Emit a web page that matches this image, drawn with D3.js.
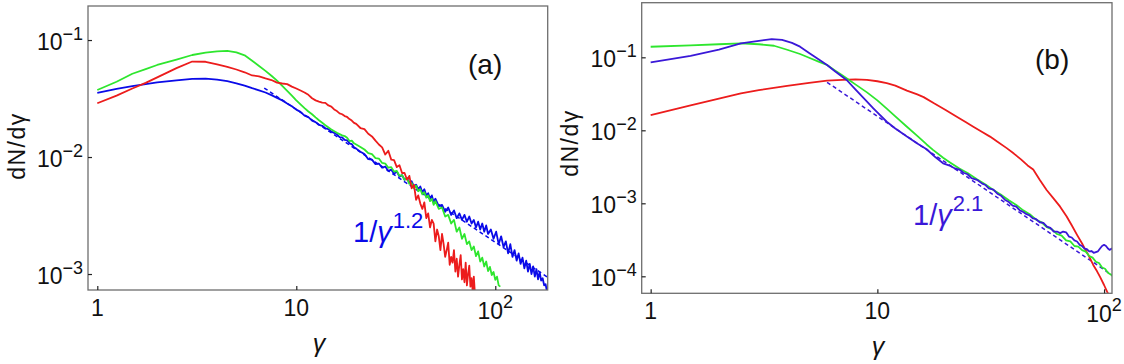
<!DOCTYPE html>
<html><head><meta charset="utf-8">
<script src="https://cdn.jsdelivr.net/npm/d3@7"></script>
<style>
html,body{margin:0;padding:0;background:#fff;}
svg text{font-family:"Liberation Sans",Arial,sans-serif;fill:#111;}
</style></head>
<body><svg id="c" width="1124" height="364"></svg>
<script>
// ---------- DATA ----------
const xTicks = [1, 10, 100];
const yTicksA = [1e-1, 1e-2, 1e-3];
const yTicksB = [1e-1, 1e-2, 1e-3, 1e-4];
const xTickLabels = [["1",""],["10",""],["10","2"]];
const yTickLabelsA = [["10","\u22121"],["10","\u22122"],["10","\u22123"]];
const yTickLabelsB = [["10","\u22121"],["10","\u22122"],["10","\u22123"],["10","\u22124"]];

// panel (a)
const aRed = [[1,0.0288],[1.25,0.0335],[1.5,0.0385],[1.75,0.0430],[2,0.0480],[2.5,0.0575],[3,0.0655],[3.5,0.0652],[4,0.0618],[4.5,0.0590],[5,0.0560],[5.5,0.0530],[6,0.0498],[6.5,0.0490],[7,0.0470],[7.5,0.0455],[8,0.0432],[8.5,0.0425],[9,0.0420],[9.5,0.0400],[10,0.0385],[10.5,0.0370],[11,0.0356],[11.5,0.0340],[12,0.0318],[12.5,0.0305],[13,0.0298],[13.5,0.0292],[14,0.0290],[14.5,0.0276],[15,0.0270],[15.5,0.0255],[16,0.0247],[16.5,0.0236],[17,0.0232],[17.5,0.0224],[18,0.0220],[18.5,0.0211],[19,0.0205],[19.5,0.0196],[20,0.0192],
[21,0.0177],[22,0.0173],[23,0.0158],[24,0.0150],[25,0.0138],[26,0.0128],[27,0.0121],[28,0.0105],[29,0.0113],[30,0.0095],[31,0.0094],[32,0.0082],[33,0.0085],[34,0.0073],[35,0.0073],[36,0.0064],[37,0.0069],[38,0.0054],[39,0.0058],[40,0.0043],[41,0.0047],[42,0.0040],[43,0.0036],[44,0.0041],[45,0.0030],[46,0.0033],[47,0.0025],[48,0.0029],[49,0.0027],[50,0.0019],[51,0.0024],[52,0.0021],[53,0.0016],[54,0.0022],[55,0.0018],[56,0.0014],[57,0.0016],[58,0.00185],[59,0.0012],[60,0.0014],[61,0.00125],[62,0.0016],[63,0.00105],[64,0.00135],[65,0.00095],[66,0.00120],[67,0.00145],[68,0.00090],[69,0.00110],[70,0.00085],[71,0.00125],[72,0.00080],[73,0.00100],[74,0.00118],[75,0.00078],[76,0.00092],[77,0.00071],[78,0.00095],[79,0.00068],[80,0.00060]];

const aGreen = [[1,0.0374],[1.25,0.0440],[1.5,0.0515],[1.75,0.0565],[2,0.0612],[2.5,0.0680],[3,0.0745],[3.5,0.0780],[4,0.0800],[4.5,0.0808],[5,0.0785],[5.5,0.0740],[6,0.0665],[6.5,0.0600],[7,0.0545],[7.5,0.0495],[8,0.0450],[8.5,0.0405],[9,0.0368],[9.5,0.0335],[10,0.0305],[10.5,0.0282],[11,0.0262],[11.5,0.0245],[12,0.0232],[12.5,0.0218],[13,0.0206],[13.5,0.0196],[14,0.0187],[15,0.0172],[16,0.0161],[17,0.0153],[17.5,0.0151],[18,0.0146],[18.5,0.0137],[19,0.0138],[19.5,0.0131],[20,0.0128],[21,0.0122],[22,0.0116],
[23,0.0108],[24,0.0106],[25,0.0098],[26,0.0097],[27,0.0089],[28,0.0088],[29,0.0081],[30,0.0082],[31,0.0075],[32,0.0076],[33,0.0069],[34,0.0070],[35,0.0064],[36,0.0066],[37,0.0059],[38,0.0060],[39,0.0054],[40,0.0057],[41,0.0051],[42,0.0053],[43,0.0048],[44,0.0050],[45,0.0045],[46,0.0047],[47,0.0042],[48,0.0044],[49,0.0039],[50,0.0042],[52,0.0036],[54,0.0037],[56,0.0031],[58,0.0032],[60,0.0027],[62,0.0029],[64,0.0023],[66,0.0025],[68,0.0020],[70,0.0022],[72,0.0018],[74,0.0019],[76,0.0016],[78,0.00172],[80,0.00142],[82,0.00156],[84,0.00128],[86,0.00138],[88,0.00116],[90,0.00128],[92,0.00106],[94,0.00115],[96,0.00098],[98,0.00104],[100,0.00089],[102,0.00095],[104,0.00080],[106,0.00078]];

const aBlue = [[1,0.0354],[1.25,0.0382],[1.5,0.0403],[1.75,0.0420],[2,0.0435],[2.5,0.0452],[3,0.0465],[3.5,0.0467],[4,0.0458],[4.5,0.0445],[5,0.0427],[5.5,0.0408],[6,0.0388],[6.5,0.0372],[7,0.0356],[7.5,0.0338],[8,0.0320],[8.5,0.0305],[9,0.0287],[9.5,0.0272],[10,0.0254],[10.5,0.0243],[11,0.0226],[11.5,0.0219],[12,0.0205],[12.5,0.0199],[13,0.0188],[13.5,0.0185],[14,0.0176],[14.5,0.0173],[15,0.0165],[15.5,0.0161],[16,0.0156],[16.5,0.0148],[17,0.0147],[17.5,0.0140],[18,0.0139],[18.5,0.0131],[19,0.0129],[19.5,0.0121],[20,0.0118],
[21,0.0111],[22,0.0106],[23,0.0096],[24,0.0095],[25,0.0087],[26,0.0088],[27,0.0081],[28,0.0083],[29,0.0076],[30,0.0078],[31,0.0072],[32,0.0075],[33,0.0068],[34,0.0070],[35,0.0064],[36,0.0066],[37,0.0060],[38,0.0062],[39,0.0056],[40,0.0058],[41,0.0053],[42,0.0056],[43,0.0050],[44,0.0053],[45,0.0047],[46,0.0049],[47,0.0044],[48,0.0047],[49,0.0041],[50,0.0044],[52,0.0038],[54,0.0039],[56,0.0034],[58,0.0037],[60,0.0032],[62,0.0035],[64,0.0030],[66,0.0033],[68,0.0029],[70,0.0032],[72,0.0028],[74,0.0031],[76,0.0027],[78,0.0029],[80,0.0025],[82,0.0028],[84,0.0024],[86,0.0027],[88,0.0023],[90,0.0026],[92,0.0022],[95,0.0024],[98,0.0020],[101,0.0023],[104,0.0018],[107,0.0021],[110,0.0017],[113,0.0019],[116,0.0015],[119,0.0018],[122,0.0014],[125,0.0016],[128,0.0013],[131,0.0015],[134,0.00122],[137,0.00138],[140,0.00112],[143,0.00130],[146,0.00105],[149,0.00122],[152,0.00100],[155,0.00116],[158,0.00095],[161,0.00110],[164,0.00090],[167,0.00104],[170,0.00088],[173,0.00092],[176,0.00080],[179,0.00082],[182,0.00070],[185,0.00078]];

const aFit = [[6.9,0.0389],[183,0.00094]];   // 1/γ^1.2

// panel (b)
const bRed = [[1,0.0162],[1.5,0.0220],[2,0.0272],[2.5,0.0321],[3,0.0355],[4,0.0405],[5,0.0445],[6,0.0480],[7,0.0492],[8,0.0498],[9,0.0490],[10,0.0470],[11,0.0442],[12,0.0410],[13.5,0.0350],[15,0.0310],[16,0.0285],[17.7,0.0236],[20,0.0190],[22.4,0.0153],[24.5,0.0130],[26.5,0.0112],[29,0.0095],[31.4,0.0082],[34,0.0069],[37.2,0.0057],[40,0.0048],[43,0.0040],[46,0.0033],[48.7,0.0029],[52,0.0021],[55.8,0.00152],[59.7,0.00118],[64,0.00090],[68.4,0.00066],[72,0.00050],[76,0.00037],[80.6,0.00027],[85,0.00020],[89.6,0.000143],[93,0.000118],[96,0.000098],[100,0.000076],[103,0.000062],[106,0.000052],[109,0.000044]];

const bGreen = [[1,0.1395],[1.5,0.146],[2,0.151],[2.5,0.1555],[3,0.151],[3.5,0.144],[4,0.127],[4.56,0.111],[5,0.0987],[5.5,0.0874],[6,0.0784],[6.5,0.0660],[7,0.0566],[7.5,0.0490],[8,0.0426],[9,0.0331],[10,0.0257],[11,0.0198],[12,0.0155],[13.5,0.0112],[15,0.0084],[16.5,0.0064],[17.6,0.0054],[19.5,0.0042],[21,0.0036],[23,0.0030],[25,0.0026],[27.5,0.00214],[30,0.00181],[32.5,0.00152],[35,0.00132],[38,0.00110],[41,0.00095],[44,0.00080],[47,0.00071],[50,0.00060],[53,0.00055],[56,0.00047],[59,0.00044],[62,0.00038],[65,0.00036],[68,0.00031],[71,0.00030],[74,0.00026],[77,0.000255],[80,0.000228],[83,0.000218],[86,0.000190],[89,0.000180],[92,0.000158],[95,0.000152],[98,0.000132],[101,0.000127],[104,0.000112],[107,0.000106],[110,0.000098]];

const bBlue = [[1,0.0855],[1.5,0.1046],[2,0.127],[2.5,0.1555],[3,0.168],[3.42,0.178],[3.8,0.173],[4.2,0.158],[4.56,0.140],[5,0.115],[5.5,0.094],[6,0.0784],[6.5,0.0645],[7,0.0543],[7.32,0.0489],[8,0.0365],[9,0.0247],[9.6,0.0200],[10,0.0176],[11,0.0131],[12,0.0106],[13.5,0.0082],[15,0.0066],[16.5,0.0055],[18,0.0043],[19.5,0.00353],[21,0.00325],[22,0.00300],[23,0.00290],[24,0.00262],[25,0.00250],[26,0.00222],[27.5,0.00210],[29,0.00186],[30,0.00178],[31,0.00160],[32.5,0.00154],[34,0.00134],[35,0.00128],[36.5,0.00112],[38,0.00104],[39.5,0.00093],[41,0.00090],[42.5,0.00080],[44,0.00076],[45.5,0.00071],[47,0.00068],[48.5,0.00062],[50,0.00061],[52,0.00055],[54,0.00054],[56,0.00048],[58,0.00046],[60,0.00041],[62,0.00041],[64,0.00039],[66,0.00041],[68,0.00040],[70,0.00035],[72,0.00034],[74,0.00031],[76,0.00030],[78,0.00027],[80,0.00026],[82,0.00024],[84,0.000235],[86,0.00022],[88,0.000222],[90,0.00021],[92,0.000215],[94,0.00022],[96,0.00024],[98,0.00026],[100,0.00027],[102,0.00026],[104,0.00024],[106,0.00023],[108,0.00024],[110,0.00023]];

const bFit = [[6,0.0455],[108,0.000105]];   // 1/γ^2.1

// ---------- DRAW ----------
const svg = d3.select("#c");
const RED = "#ec1c1c", GREEN = "#2ee62e", BLUE_A = "#0a0ae8", BLUE_B = "#3a18d8";

function panel(cfg){
  const x = d3.scaleLog().domain(cfg.xDom).range([cfg.x0, cfg.x1]);
  const y = d3.scaleLog().domain(cfg.yDom).range([cfg.y0, cfg.y1]);
  const g = svg.append("g");
  const clipId = "clip" + cfg.id;
  svg.append("clipPath").attr("id", clipId).append("rect")
    .attr("x", cfg.x0).attr("y", cfg.y0).attr("width", cfg.x1 - cfg.x0).attr("height", cfg.y1 - cfg.y0);

  const line = d3.line().x(d => x(d[0])).y(d => y(d[1]));
  const plot = g.append("g").attr("clip-path", `url(#${clipId})`);
  cfg.series.forEach(s => {
    plot.append("path").datum(s.data).attr("d", line)
      .attr("fill", "none").attr("stroke", s.color)
      .attr("stroke-width", s.w || 1.8).attr("stroke-dasharray", s.dash || null)
      .attr("stroke-linejoin", "round");
  });

  // frame
  g.append("rect").attr("x", cfg.x0).attr("y", cfg.y0)
    .attr("width", cfg.x1 - cfg.x0).attr("height", cfg.y1 - cfg.y0)
    .attr("fill", "none").attr("stroke", "#6e6e6e").attr("stroke-width", 1.3);

  // axes (ticks inward)
  const ax = g.append("g").attr("transform", `translate(0,${cfg.y1})`)
    .call(d3.axisBottom(x).tickValues(xTicks).tickFormat("").tickSizeInner(-4).tickSizeOuter(0));
  const ay = g.append("g").attr("transform", `translate(${cfg.x0},0)`)
    .call(d3.axisLeft(y).tickValues(cfg.yTicks).tickFormat("").tickSizeInner(-4).tickSizeOuter(0));
  [ax, ay].forEach(a => { a.select(".domain").remove(); a.selectAll("line").attr("stroke", "#222").attr("stroke-width", 1.2); });

  // x tick labels
  xTicks.forEach((t, i) => {
    const [m, s] = xTickLabels[i];
    const tx = g.append("text").attr("x", x(t)).attr("y", cfg.y1 + (s ? 29 : 26))
      .attr("text-anchor", "middle").attr("font-size", 23);
    tx.append("tspan").text(m);
    if (s) tx.append("tspan").attr("dy", -11).attr("font-size", 18).text(s);
  });
  // y tick labels
  cfg.yTicks.forEach((t, i) => {
    const [m, s] = cfg.yLabels[i];
    const tx = g.append("text").attr("x", cfg.x0 - 5).attr("y", y(t) + 10)
      .attr("text-anchor", "end").attr("font-size", 23);
    tx.append("tspan").text(m);
    tx.append("tspan").attr("dy", -10).attr("font-size", 18).text(s);
  });

  // axis titles
  g.append("text").attr("transform", `translate(${cfg.yLabX},${cfg.yLabY}) rotate(-90)`)
    .attr("text-anchor", "middle").attr("font-size", 23).attr("letter-spacing", 1.5).text("dN/d\u03b3");
  g.append("text").attr("x", cfg.xLabX).attr("y", cfg.xLabY)
    .attr("text-anchor", "middle").attr("font-size", 25).attr("font-style", "italic").text("\u03b3");

  // panel tag
  g.append("text").attr("x", cfg.tagX).attr("y", cfg.tagY).attr("font-size", 28).text(cfg.tag);

  // power-law label
  const pl = g.append("text").attr("x", cfg.plX).attr("y", cfg.plY).attr("font-size", 29)
    .style("fill", cfg.plColor);
  pl.append("tspan").text("1/");
  pl.append("tspan").attr("font-style", "italic").text("\u03b3");
  pl.append("tspan").attr("dy", -14).attr("font-size", 22).attr("dx", 1).text(cfg.plExp);
}

panel({
  id: "a", x0: 88, x1: 547.7, y0: 6, y1: 290,
  xDom: [0.898, 183.4], yDom: [0.1954, 7.3e-4],
  yTicks: yTicksA, yLabels: yTickLabelsA,
  series: [
    {data: aFit, color: BLUE_A, dash: "4,3", w: 1.5},
    {data: aBlue, color: BLUE_A},
    {data: aGreen, color: GREEN},
    {data: aRed, color: RED}
  ],
  yLabX: 25, yLabY: 146, xLabX: 319, xLabY: 352,
  tag: "(a)", tagX: 468, tagY: 74,
  plX: 353, plY: 242, plExp: "1.2", plColor: BLUE_A
});

panel({
  id: "b", x0: 641.7, x1: 1112, y0: 2.7, y1: 293.3,
  xDom: [0.913, 108.4], yDom: [0.56, 5.85e-5],
  yTicks: yTicksB, yLabels: yTickLabelsB,
  series: [
    {data: bFit, color: BLUE_B, dash: "4,3", w: 1.5},
    {data: bRed, color: RED},
    {data: bGreen, color: GREEN},
    {data: bBlue, color: BLUE_B}
  ],
  yLabX: 578, yLabY: 143, xLabX: 878, xLabY: 355,
  tag: "(b)", tagX: 1035, tagY: 69,
  plX: 913, plY: 225, plExp: "2.1", plColor: BLUE_B
});
</script></body></html>
